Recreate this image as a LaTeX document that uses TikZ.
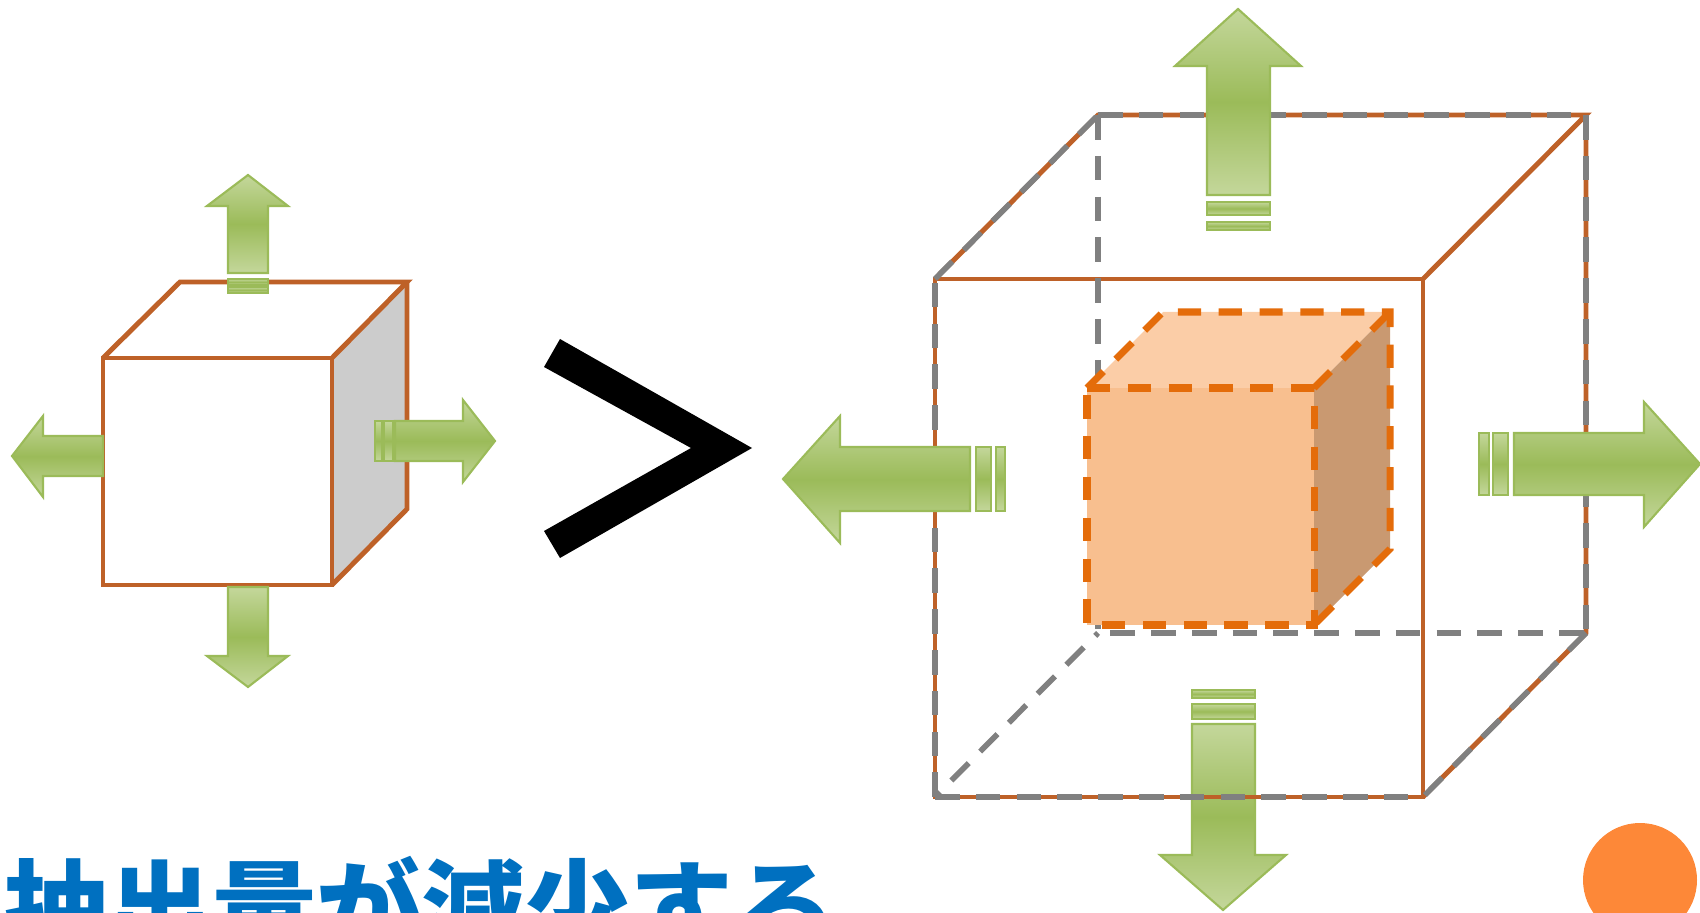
\documentclass[tikz,border=0pt]{standalone}
\usepackage{fontspec}
\newfontfamily\jpfont{Noto Sans CJK JP}
\usepackage{xcolor}
\usepackage{tikz}

\definecolor{cubeline}{RGB}{190,97,40}
\definecolor{edgegray}{RGB}{128,128,128}
\definecolor{sidegray}{RGB}{204,204,204}
\definecolor{greendark}{RGB}{155,187,89}
\definecolor{greenlight}{RGB}{196,215,155}
\definecolor{coreline}{RGB}{228,108,10}
\definecolor{corefront}{RGB}{248,191,143}
\definecolor{coretop}{RGB}{251,205,167}
\definecolor{coreside}{RGB}{201,153,113}
\definecolor{titleblue}{RGB}{0,112,192}
\definecolor{dotorange}{RGB}{253,136,56}

\tikzset{
  cubeedge/.style={draw=cubeline, line width=1.4pt},
  grayedge/.style={draw=edgegray, line width=1.6pt, dash pattern=on 7pt off 4.6pt},
  coreedge/.style={draw=coreline, line width=2pt, dash pattern=on 6.6pt off 5pt},
  greenarrow/.style={draw=greendark, line width=0.6pt, top color=greenlight,
    bottom color=greenlight, middle color=greendark},
}

\begin{document}
\begin{tikzpicture}[x=0.01cm,y=-0.01cm]
\useasboundingbox (0,0) rectangle (1700,913);
%% small cube
\coordinate (s1) at (103,358);
\coordinate (s2) at (332,358);
\coordinate (s3) at (332,585);
\coordinate (s4) at (103,585);
\coordinate (s5) at (180,282);
\coordinate (s6) at (407,282);
\coordinate (s7) at (407,509);
\fill[sidegray] (s2) -- (s6) -- (s7) -- (s3) -- cycle;
\draw[cubeedge] (s1) -- (s2) -- (s3) -- (s4) -- cycle;
\draw[cubeedge] (s1) -- (s5) -- (s6) -- (s2);
\draw[cubeedge] (s6) -- (s7) -- (s3);
%% arrows of the small cube
\draw[greenarrow] (228,273) -- (228,206) -- (207,206) -- (248,175) -- (288,206) -- (268,206) -- (268,273) -- cycle;
\draw[greenarrow] (228,279) rectangle (268,285);
\draw[greenarrow] (228,287) rectangle (268,293);
\draw[greenarrow] (228,587) -- (228,656) -- (207,656) -- (248,687) -- (288,656) -- (268,656) -- (268,587) -- cycle;
\draw[greenarrow] (103,436) -- (43,436) -- (43,416) -- (12,456) -- (43,497) -- (43,476) -- (103,476) -- cycle;
\draw[greenarrow] (395,421) -- (463,421) -- (463,400) -- (495,441) -- (463,482) -- (463,461) -- (395,461) -- cycle;
\draw[greenarrow] (375,421) rectangle (382,461);
\draw[greenarrow] (384,421) rectangle (393,461);
%% greater-than sign
\fill (560,339) -- (752,448) -- (560,558) -- (544,531) -- (691,448) -- (544,367) -- cycle;
%% big cube
\coordinate (b1) at (935,279);
\coordinate (b2) at (1423,279);
\coordinate (b3) at (1423,797);
\coordinate (b4) at (935,797);
\coordinate (b5) at (1098,115);
\coordinate (b6) at (1586,115);
\coordinate (b7) at (1586,633);
\coordinate (b8) at (1098,633);
%% lower arrow goes under the edges
\draw[greenarrow] (1192,724) -- (1192,855) -- (1160,855) -- (1223,910) -- (1286,855) -- (1255,855) -- (1255,724) -- cycle;
\draw[greenarrow] (1192,704) rectangle (1255,719);
\draw[greenarrow] (1192,690) rectangle (1255,698);
\draw[cubeedge] (b1) -- (b2) -- (b3) -- (b4) -- cycle;
\draw[cubeedge] (b1) -- (b5) -- (b6) -- (b2);
\draw[cubeedge] (b6) -- (b7) -- (b3);
\draw[grayedge] (b4) -- (b1);
\draw[grayedge] (b4) -- (b3);
\draw[grayedge] (b1) -- (b5);
\draw[grayedge] (b5) -- (b6);
\draw[grayedge] (b6) -- (b7);
\draw[grayedge] (b7) -- (b3);
\draw[grayedge] (b5) -- (b8) -- (b7);
\draw[grayedge, dash phase=5pt] (b4) -- (b8);
%% inner cube
\coordinate (c1) at (1087,388);
\coordinate (c2) at (1314,388);
\coordinate (c3) at (1314,625);
\coordinate (c4) at (1087,625);
\coordinate (c5) at (1163,312);
\coordinate (c6) at (1390,312);
\coordinate (c7) at (1390,549);
\fill[corefront] (c1) rectangle (c3);
\fill[coretop] (c1) -- (c5) -- (c6) -- (c2) -- cycle;
\fill[coreside] (c2) -- (c6) -- (c7) -- (c3) -- cycle;
\draw[coreedge] (c1) -- (c2) -- (c3) -- (c4) -- cycle;
\draw[coreedge] (c1) -- (c5) -- (c6) -- (c7) -- (c3);
\draw[coreedge] (c2) -- (c6);
%% arrows of the big cube
\draw[greenarrow] (1207,195) -- (1207,66) -- (1175,66) -- (1238,9) -- (1301,66) -- (1270,66) -- (1270,195) -- cycle;
\draw[greenarrow] (1207,202) rectangle (1270,215);
\draw[greenarrow] (1207,222) rectangle (1270,230);
\draw[greenarrow] (970,447) -- (840,447) -- (840,416) -- (783,479) -- (840,543) -- (840,511) -- (970,511) -- cycle;
\draw[greenarrow] (976,447) rectangle (991,511);
\draw[greenarrow] (996,447) rectangle (1005,511);
\draw[greenarrow] (1514,433) -- (1644,433) -- (1644,402) -- (1700,464) -- (1644,527) -- (1644,495) -- (1514,495) -- cycle;
\draw[greenarrow] (1493,433) rectangle (1508,495);
\draw[greenarrow] (1479,433) rectangle (1489,495);
%% caption and dot
\node[anchor=base west, inner sep=0pt, text=titleblue,
  font=\jpfont\bfseries\fontsize{29.6pt}{30pt}\selectfont] (title) at (4,947) {抽出量が減少する};
\fill[dotorange] (1640,880) circle (57);
\end{tikzpicture}
\end{document}
